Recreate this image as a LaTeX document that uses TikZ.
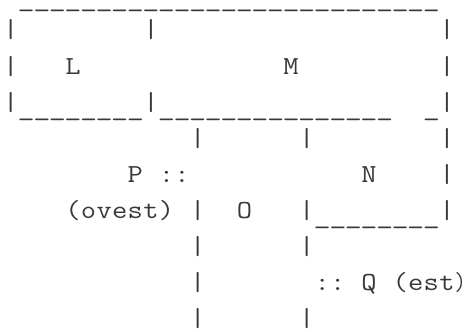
\documentclass[tikz,border=0pt]{standalone}
\usepackage{fontspec}
\usepackage{graphicx}

% one character cell of the monospaced grid
\newlength\cw
\setlength\cw{7.79pt}
\definecolor{ink}{HTML}{383838}

% set a string cell by cell, each glyph widened to fill its cell
\ExplSyntaxOn
\NewDocumentCommand\cells{m}
  {\tl_map_inline:nn {#1} {\makebox[\cw][c]{\scalebox{1.14}[1]{##1}}}}
\ExplSyntaxOff
% underscore set lower and a little wider, so that a run of them joins up
\newcommand\usc{\raisebox{-2.5pt}{\scalebox{1.12}[1]{\_}}}
% closing parenthesis at the right edge, kept a little narrower
\newcommand\rparen{\makebox[\cw][l]{\scalebox{0.85}[1]{)}}}

\tikzset{
  ascii/.style={inner sep=0pt, outer sep=0pt, anchor=base west, text=ink,
    font=\ttfamily\fontsize{13}{13}\selectfont},
}

\begin{document}
\begin{tikzpicture}
\useasboundingbox (0,0) rectangle (233.5pt,-166pt);
% grid: x = column, y = text row (baselines)
\begin{scope}[shift={(1.45pt,-0.975pt)}, x=7.79pt, y=-18.025pt]
  % row 0: top edge
  \node[ascii] (topedge) at (1,0) {\cells{\usc\usc\usc\usc\usc\usc\usc\usc\usc\usc\usc\usc\usc\usc\usc\usc\usc\usc\usc\usc\usc\usc\usc\usc\usc\usc\usc}};
  % row 1
  \node[ascii] (r1a) at (0,1) {\cells{|}};
  \node[ascii] (r1b) at (9,1) {\cells{|}};
  \node[ascii] (r1c) at (28,1) {\cells{|}};
  % row 2: labels L and M
  \node[ascii] (r2a) at (0,2) {\cells{|}};
  \node[ascii] (lblL) at (4,2) {\cells{L}};
  \node[ascii] (lblM) at (18,2) {\cells{M}};
  \node[ascii] (r2c) at (28,2) {\cells{|}};
  % row 3: bottom edges of L and M
  \node[ascii] (r3a) at (0,3) {\cells{|}};
  \node[ascii] (baseL) at (1,3) {\cells{\usc\usc\usc\usc\usc\usc\usc\usc}};
  \node[ascii] (r3b) at (9,3) {\cells{|}};
  \node[ascii] (baseM) at (10,3) {\cells{\usc\usc\usc\usc\usc\usc\usc\usc\usc\usc\usc\usc\usc\usc\usc}};
  \node[ascii] (r3c) at (27,3) {\cells{\usc|}};
  % row 4
  \node[ascii] (r4a) at (12,4) {\cells{|}};
  \node[ascii] (r4b) at (19,4) {\cells{|}};
  \node[ascii] (r4c) at (28,4) {\cells{|}};
  % row 5: P and N
  \node[ascii] (lblP) at (8,5) {\cells{P~::}};
  \node[ascii] (lblN) at (23,5) {\cells{N}};
  \node[ascii] (r5c) at (28,5) {\cells{|}};
  % row 6: ovest, O, bottom edge of N
  \node[ascii] (ovest) at (4,6) {\cells{(ovest)}};
  \node[ascii] (r6a) at (12,6) {\cells{|}};
  \node[ascii] (lblO) at (15,6) {\cells{O}};
  \node[ascii] (baseN) at (19,6) {\cells{|\usc\usc\usc\usc\usc\usc\usc\usc|}};
  % row 7
  \node[ascii] (r7a) at (12,7) {\cells{|}};
  \node[ascii] (r7b) at (19,7) {\cells{|}};
  % row 8: Q (est)
  \node[ascii] (r8a) at (12,8) {\cells{|}};
  \node[ascii] (lblQ) at (20,8) {\cells{::~Q~(est}\rparen};
  % row 9
  \node[ascii] (r9a) at (12,9) {\cells{|}};
  \node[ascii] (r9b) at (19,9) {\cells{|}};
\end{scope}
\end{tikzpicture}
\end{document}
